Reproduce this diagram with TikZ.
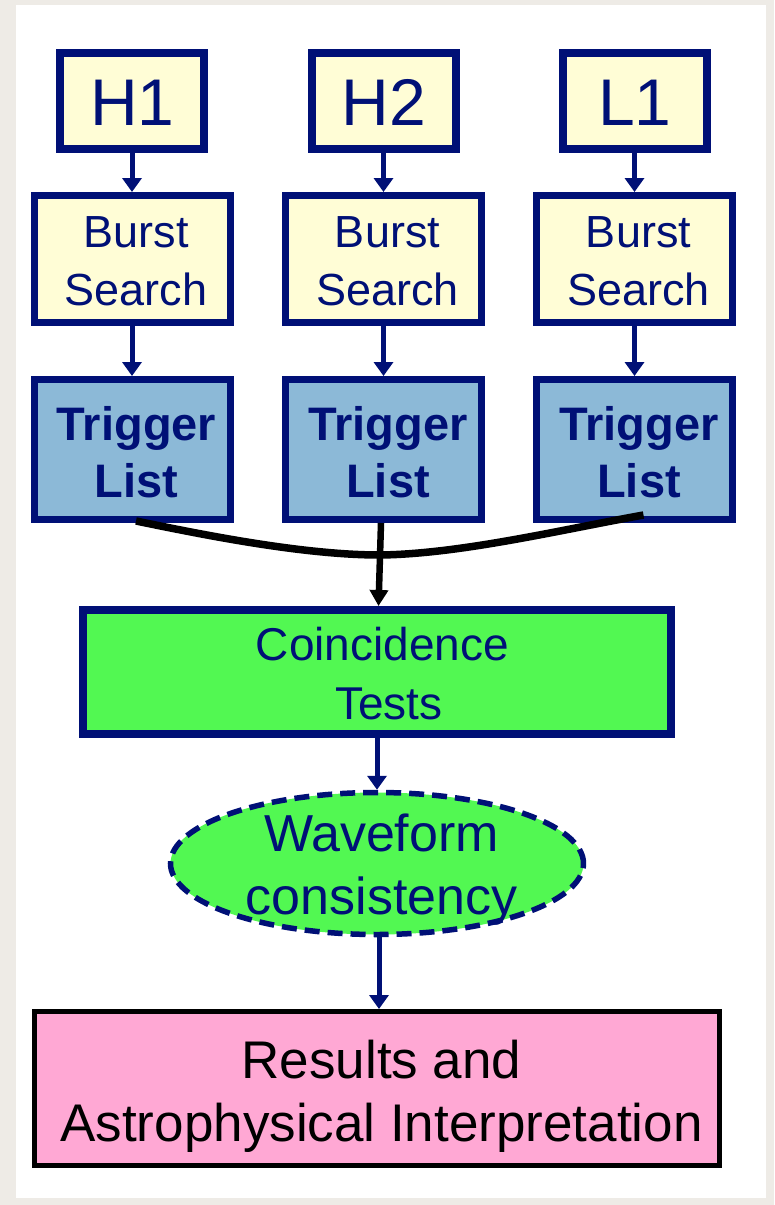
\documentclass[tikz,border=0pt]{standalone}
\usepackage{fontspec}
\setmainfont{Liberation Sans}
\usetikzlibrary{arrows.meta,shapes.geometric,calc}

\definecolor{navy}{RGB}{0,16,118}
\definecolor{cream}{RGB}{255,253,214}
\definecolor{steel}{RGB}{140,185,215}
\definecolor{brightgreen}{RGB}{82,248,82}
\definecolor{pinkfill}{RGB}{255,168,212}
\definecolor{paper}{RGB}{238,235,230}

\begin{document}
\begin{tikzpicture}[x=1pt,y=-1pt,
  detbox/.style={draw=navy, line width=8pt, fill=cream, inner sep=0pt,
    minimum width=144pt, minimum height=96pt},
  burstbox/.style={draw=navy, line width=7pt, fill=cream, inner sep=0pt,
    minimum width=196pt, minimum height=127pt},
  trigbox/.style={draw=navy, line width=7pt, fill=steel, inner sep=0pt,
    minimum width=196pt, minimum height=140pt},
  coinbox/.style={draw=navy, line width=8pt, fill=brightgreen, inner sep=0pt,
    minimum width=588pt, minimum height=124pt},
  waveshape/.style={ellipse, draw=navy, line width=5.5pt, fill=brightgreen,
    dash pattern=on 15pt off 8pt, inner sep=0pt,
    minimum width=413pt, minimum height=142pt},
  resultbox/.style={draw=black, line width=5pt, fill=pinkfill, inner sep=0pt,
    minimum width=685pt, minimum height=154pt},
  lbl/.style={inner sep=0pt, align=center},
  detlbl/.style={lbl, text=navy, font=\fontsize{66}{79}\selectfont},
  burstlbl/.style={lbl, text=navy, font=\fontsize{45}{58}\selectfont},
  triglbl/.style={lbl, text=navy, font=\fontsize{47}{57}\selectfont\bfseries},
  coinlbl/.style={lbl, text=navy, font=\fontsize{46}{59}\selectfont},
  wavelbl/.style={lbl, text=navy, font=\fontsize{52}{63}\selectfont},
  resultlbl/.style={lbl, text=black, font=\fontsize{53}{63}\selectfont},
  flow/.style={draw=navy, line width=5pt, -{Triangle[length=14pt,width=19pt]}},
  merge/.style={draw=black, line width=7.5pt},
  mergearrow/.style={draw=black, line width=6.5pt, -{Triangle[length=16pt,width=18pt]}}
]
% page and panel
\fill[paper] (0,0) rectangle (774,1205);
\fill[white] (16,5) rectangle (766,1198);
\useasboundingbox (0,0) rectangle (774,1205);

% detectors
\node[detbox] (h1) at (132,101) {};
\node[detbox] (h2) at (383.5,101) {};
\node[detbox] (l1) at (634.5,101) {};
\node[detlbl] (h1t) at ($(h1.center)+(0.5,1.5)$) {H1};
\node[detlbl] (h2t) at ($(h2.center)+(0.5,1.5)$) {H2};
\node[detlbl] (l1t) at ($(l1.center)+(0.5,1.5)$) {L1};

% burst searches
\node[burstbox] (b1) at (132,259) {};
\node[burstbox] (b2) at (383.5,259) {};
\node[burstbox] (b3) at (634.5,259) {};
\foreach \b in {b1,b2,b3}
  \node[burstlbl] (\b t) at ($(\b.center)+(4,2.5)$) {Burst\\Search};

% trigger lists
\node[trigbox] (t1) at (132,449.5) {};
\node[trigbox] (t2) at (383.5,449.5) {};
\node[trigbox] (t3) at (634.5,449.5) {};
\foreach \t in {t1,t2,t3}
  \node[triglbl] (\t t) at ($(\t.center)+(4.5,3)$) {Trigger\\List};

% coincidence tests
\node[coinbox] (co) at (377,672) {};
\node[coinlbl] (cot) at ($(co.center)+(5.5,2)$) {Coincidence\\\hspace*{0.28em}Tests};

% waveform consistency
\node[waveshape] (wf) at (377,863.5) {};
\node[wavelbl] (wft) at ($(wf.center)+(4.5,6.5)$) {Waveform\\consistency};

% results
\node[resultbox] (rs) at (377,1088.5) {};
\node[resultlbl] (rst) at ($(rs.center)+(4.5,7.5)$) {Results and\\Astrophysical Interpretation};

% connectors
\draw[flow] (h1) -- (b1);
\draw[flow] (h2) -- (b2);
\draw[flow] (l1) -- (b3);
\draw[flow] (b1) -- (t1);
\draw[flow] (b2) -- (t2);
\draw[flow] (b3) -- (t3);

\coordinate (m) at (380,555);
\draw[merge] ($(t1.south)+(4,-2)$) .. controls (195,533) and (300,555) .. (m)
  .. controls (460,554) and (560,530) .. ($(t3.south)+(9,-8)$);
\draw[mergearrow] ($(t2.south)+(-2.5,0)$) -- ($(co.north)+(1.5,0)$);

\draw[flow] (co) -- (wf);
\draw[flow] ($(wf.south)+(2,0)$) -- ($(rs.north)+(2,0)$);
\end{tikzpicture}
\end{document}
